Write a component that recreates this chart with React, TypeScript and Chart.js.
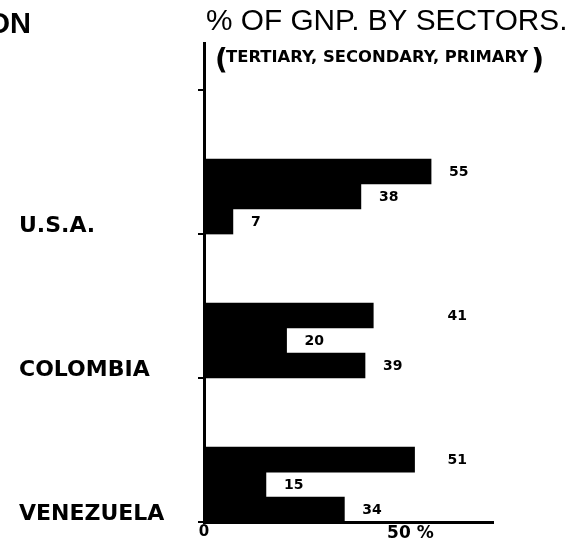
import React, { useEffect, useRef } from "react";
import { Chart, registerables } from "chart.js";

Chart.register(...registerables);

// ---- data ----
const categories = ["U.S.A.", "COLOMBIA", "VENEZUELA"];
const seriesNames = ["Tertiary", "Secondary", "Primary"];
const tertiary = [55, 41, 51];
const secondary = [38, 20, 15];
const primary = [7, 39, 34];
const xTickValues = [0, 50];
const xTickLabels = ["0", "50 %"];
const titleText = "% OF GNP. BY SECTORS.";
const subtitleText = "TERTIARY, SECONDARY, PRIMARY";
const cutText = "ON";

const DEJAVU = "'DejaVu Sans', sans-serif";
const ARIAL = "'Liberation Sans', Arial, sans-serif";

// position of category band boundary relative to a group's centre (in category units)
const BOUNDARY = 0.26;

export default function App() {
  const ref = useRef<HTMLCanvasElement>(null);

  useEffect(() => {
    const canvas = ref.current;
    if (!canvas) return;

    const textPlugin = {
      id: "texts",
      afterDraw(chart: any) {
        const ctx = chart.ctx as CanvasRenderingContext2D;
        ctx.save();
        ctx.fillStyle = "#000";
        ctx.textBaseline = "alphabetic";
        ctx.font = `bold 29px ${ARIAL}`;
        ctx.textAlign = "right";
        ctx.fillText(cutText, 31, 33);
        ctx.textAlign = "left";
        ctx.font = `29.8px ${ARIAL}`;
        ctx.fillText(titleText, 206, 30);
        ctx.font = `bold 28px ${DEJAVU}`;
        ctx.fillText("(", 215, 69);
        ctx.font = `bold 16.4px ${DEJAVU}`;
        ctx.fillText(subtitleText, 226, 62);
        const w = ctx.measureText(subtitleText).width;
        ctx.font = `bold 28px ${DEJAVU}`;
        ctx.fillText(")", 226 + w + 3, 69);
        ctx.restore();
      },
    };

    const valueLabels = {
      id: "valueLabels",
      afterDatasetsDraw(chart: any) {
        const ctx = chart.ctx as CanvasRenderingContext2D;
        const xs = chart.scales.x;
        ctx.save();
        ctx.font = `bold 14px ${DEJAVU}`;
        ctx.fillStyle = "#000";
        ctx.textAlign = "left";
        ctx.textBaseline = "middle";
        chart.data.datasets.forEach((ds: any, di: number) => {
          const meta = chart.getDatasetMeta(di);
          meta.data.forEach((bar: any, i: number) => {
            let x = bar.x + 18;
            if (di === 0) x = Math.max(x, xs.getPixelForValue(59));
            ctx.fillText(String(ds.data[i].x), x, bar.y + 1);
          });
        });
        ctx.restore();
      },
    };

    const series = [tertiary, secondary, primary];

    const chart = new Chart(canvas, {
      type: "bar",
      data: {
        datasets: series.map((vals, k) => ({
          label: seriesNames[k],
          data: vals.map((v, i) => ({ x: v, y: i })),
          backgroundColor: "#000",
          borderWidth: 0,
          barThickness: 25,
        })),
      },
      options: {
        indexAxis: "y",
        animation: false,
        responsive: true,
        maintainAspectRatio: false,
        layout: { padding: { left: 19, right: 80, top: 43, bottom: 0 } },
        plugins: {
          legend: { display: false },
          tooltip: { enabled: false },
          title: { display: false },
        },
        scales: {
          x: {
            type: "linear",
            position: "bottom",
            bounds: "data",
            offset: false,
            min: 0,
            max: 70,
            afterBuildTicks: (s: any) => {
              s.ticks = xTickValues.map((v) => ({ value: v }));
            },
            afterFit: (s: any) => {
              s.height = 31;
            },
            grid: { display: false, drawTicks: false, offset: false },
            border: { display: true, color: "#000", width: 3 },
            ticks: {
              padding: 1,
              color: "#000",
              autoSkip: false,
              maxRotation: 0,
              font: (c: any) => ({
                family: DEJAVU,
                weight: "bold",
                size: c.tick && c.tick.value === 50 ? 17 : 15,
              }),
              callback: (v: any) => {
                const i = xTickValues.indexOf(Number(v));
                return i >= 0 ? xTickLabels[i] : "";
              },
            },
          },
          y: {
            type: "linear",
            reverse: true,
            bounds: "data",
            offset: false,
            min: -1.066,
            max: 2.26,
            afterBuildTicks: (s: any) => {
              const t = [{ value: -1 + BOUNDARY }];
              categories.forEach((_, i) => t.push({ value: i + BOUNDARY }));
              s.ticks = t;
            },
            afterFit: (s: any) => {
              s.width = 185;
            },
            grid: {
              display: true,
              offset: false,
              drawOnChartArea: false,
              drawTicks: true,
              tickLength: 6,
              color: "#000",
              lineWidth: 2,
            },
            border: { display: true, color: "#000", width: 3 },
            ticks: {
              crossAlign: "far",
              labelOffset: -8,
              autoSkip: false,
              color: "#000",
              font: { family: DEJAVU, weight: "bold", size: 22 },
              callback: (v: any) => {
                const i = Math.round(Number(v) - BOUNDARY);
                return i >= 0 && i < categories.length ? categories[i] : "";
              },
            },
          },
        },
      } as any,
      plugins: [valueLabels, textPlugin],
    });

    return () => chart.destroy();
  }, []);

  return (
    <div
      style={{
        position: "absolute",
        left: 0,
        top: 0,
        width: 573,
        height: 553,
        background: "#fff",
      }}
    >
      <canvas ref={ref} />
    </div>
  );
}
